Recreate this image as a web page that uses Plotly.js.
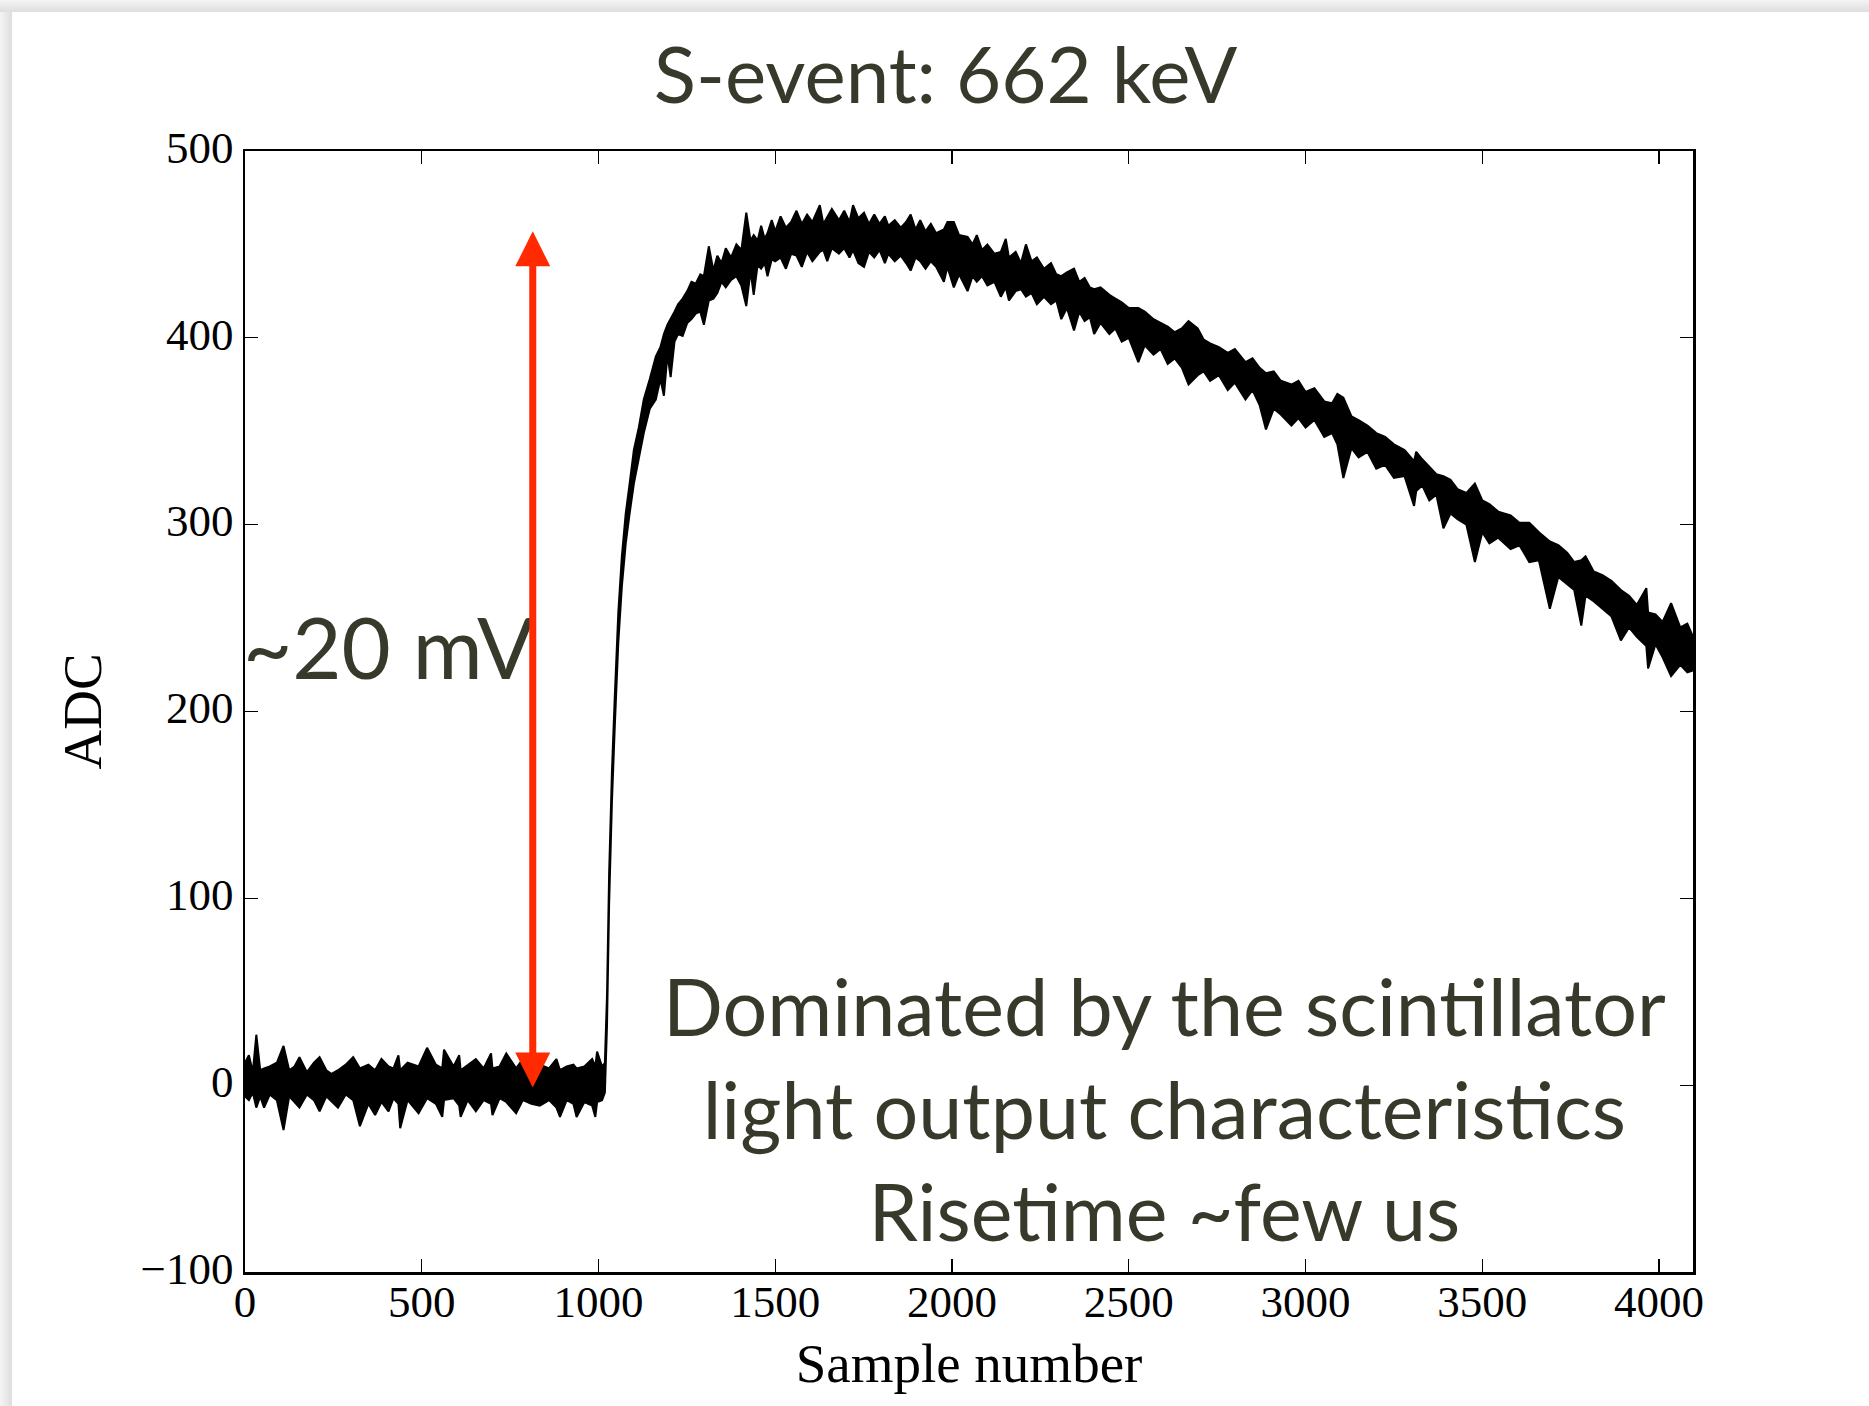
<!DOCTYPE html>
<html>
<head>
<meta charset="utf-8">
<script src="https://cdn.plot.ly/plotly-3.0.1.min.js"></script>
<style>
  html, body { margin: 0; padding: 0; }
  body {
    width: 1869px; height: 1406px; overflow: hidden;
    background:
      linear-gradient(to bottom, #f4f4f4 0px, #dedede 12px, rgba(255,255,255,0) 12px) top left / 100% 12px no-repeat,
      linear-gradient(to right, #f4f4f4 0px, #dedede 12px, rgba(255,255,255,0) 12px) top left / 12px 100% no-repeat,
      #ffffff;
  }
  #chart { position: absolute; left: 0; top: 0; width: 1869px; height: 1406px; }
</style>
</head>
<body>
<div id="chart"></div>
<script>
const sampleX = [
  0, 11, 22, 32, 43, 54, 70, 90, 109, 125, 140, 154, 175, 195, 211, 230, 245, 263, 285, 306,
  325, 349, 368, 386, 406, 420, 434, 439, 460, 491, 515, 540, 558, 563, 590, 606, 610, 630, 653, 675,
  696, 700, 720, 739, 767, 786, 810, 834, 860, 881, 891, 910, 929, 938, 960, 982, 991, 996, 1010,
  1018, 1024, 1030, 1038, 1046, 1056, 1066, 1077, 1088, 1100, 1114, 1128, 1145, 1162, 1175, 1185, 1195, 1204, 1215, 1225,
  1238, 1251, 1263, 1275, 1288,
  1298, 1312, 1325, 1336, 1348, 1360, 1375, 1390, 1404, 1418, 1430, 1439, 1450, 1460, 1470, 1478, 1490, 1500,
  1515, 1530, 1545, 1560, 1575, 1590, 1605, 1626, 1636, 1647, 1660, 1680, 1695, 1710, 1720, 1735, 1751, 1765,
  1780, 1795, 1810, 1820, 1838, 1855, 1870, 1883, 1897, 1910, 1925, 1940, 1955, 1977, 1987, 2005, 2020, 2044,
  2058, 2070, 2085, 2100, 2120, 2138, 2152, 2161, 2180, 2195, 2209, 2225, 2240, 2260, 2280, 2295, 2309, 2325,
  2345, 2360, 2375, 2390, 2402, 2420, 2445, 2462, 2480, 2500, 2527, 2545, 2570, 2590, 2610, 2630, 2650, 2669,
  2695, 2712, 2730, 2755, 2780, 2800, 2830, 2850, 2870, 2888, 2910, 2930, 2960, 2980, 3000, 3025, 3053, 3075,
  3090, 3107, 3130, 3150, 3175, 3200, 3225, 3250, 3280, 3307, 3313, 3330, 3350, 3370, 3390, 3410, 3430, 3455,
  3479, 3500, 3520, 3545, 3580, 3605, 3633, 3660, 3691, 3715, 3740, 3760, 3780, 3792, 3815, 3840, 3865, 3892,
  3915, 3937, 3964, 3969, 3990, 4010, 4034, 4060, 4080, 4096
];
// Upper edge of the noisy trace (ADC)
const upperADC = [
  12, 16, 7, 27, 8, 9, 10, 12, 21, 8, 10, 15, 7, 12, 15, 8, 6, 8, 11, 15,
  9, 11, 8, 14, 10, 9, 16, 8, 12, 10, 20, 11, 9, 19, 10, 16, 8, 11, 14, 9,
  17, 9, 10, 17, 9, 14, 10, 11, 9, 14, 8, 10, 11, 9, 10, 14, 10, 18, 10,
  12, 48, 113, 168, 208, 253, 283, 306, 322, 340, 352, 367, 378, 390, 395, 402, 407, 410, 414, 418,
  421, 425, 430, 429, 434,
  433, 449, 436, 444, 440, 448, 443, 450, 447, 467, 452, 455, 452, 460, 453, 456, 463, 457,
  465, 459, 462, 468, 461, 466, 462, 471, 461, 465, 469, 463, 468, 462, 471, 464, 467, 461,
  466, 461, 465, 460, 463, 459, 462, 466, 458, 463, 457, 461, 456, 458, 462, 462, 455, 454,
  450, 455, 447, 450, 445, 446, 453, 443, 446, 440, 450, 441, 443, 437, 440, 434, 433, 435,
  437, 430, 432, 427, 426, 427, 423, 421, 419, 416, 416, 414, 410, 408, 406, 403, 405, 409,
  405, 399, 397, 395, 392, 394, 387, 389, 384, 381, 382, 377, 375, 377, 371, 373, 366, 365,
  370, 368, 358, 356, 353, 349, 347, 343, 340, 334, 339, 335, 331, 327, 326, 324, 319, 317,
  322, 313, 311, 307, 305, 301, 301, 296, 291, 289, 285, 280, 281, 283, 275, 273, 270, 265,
  262, 257, 266, 253, 252, 248, 258, 245, 247, 240
];
// Lower edge of the noisy trace (ADC)
const lowerADC = [
  -6, -8, -4, -12, -6, -12, -5, -8, -24, -6, -9, -12, -5, -8, -14, -6, -9, -12, -5, -8,
  -22, -10, -16, -9, -14, -7, -10, -23, -8, -15, -7, -10, -17, -8, -7, -11, -17, -8, -14, -8,
  -10, -16, -7, -9, -15, -8, -10, -11, -8, -12, -17, -8, -10, -17, -9, -11, -17, -9, -8,
  -4, 32, 97, 152, 192, 237, 267, 290, 306, 322, 336, 349, 362, 367, 378, 369, 391, 379, 398, 402,
  401, 408, 410, 413, 414,
  407, 420, 421, 424, 430, 427, 431, 433, 428, 417, 436, 423, 439, 437, 440, 433, 442, 441,
  443, 437, 445, 444, 438, 446, 441, 446, 447, 441, 448, 445, 448, 443, 447, 440, 438, 446,
  443, 447, 440, 445, 441, 444, 440, 436, 443, 441, 437, 441, 438, 430, 438, 427, 434, 425,
  433, 430, 433, 428, 430, 422, 427, 420, 425, 426, 422, 424, 418, 422, 418, 420, 410, 416,
  404, 414, 409, 411, 402, 408, 402, 405, 398, 400, 387, 396, 391, 394, 386, 389, 384, 375,
  380, 382, 377, 380, 372, 376, 367, 372, 364, 351, 362, 359, 353, 357, 352, 356, 347, 349,
  343, 325, 341, 336, 339, 330, 332, 325, 326, 310, 318, 321, 313, 316, 298, 306, 303, 300,
  280, 296, 290, 293, 287, 289, 280, 281, 255, 272, 268, 265, 246, 262, 259, 255, 251, 238,
  245, 240, 235, 223, 236, 229, 219, 225, 221, 222
];
const xTicks = [0, 500, 1000, 1500, 2000, 2500, 3000, 3500, 4000];
const yTicks = [-100, 0, 100, 200, 300, 400, 500];
// Annotation arrow: from baseline to pulse top, at this sample
const arrowSample = 814;
const arrowBottom = -2;
const arrowTop = 457;
const noteLines = ['Dominated by the scintillator', 'light output characteristics', 'Risetime ~few us'];

const polyX = sampleX.concat(sampleX.slice().reverse());
const polyY = upperADC.concat(lowerADC.slice().reverse());

const textColor = '#373a2b';
const sansFont = 'Lato, "Open Sans", sans-serif';
const serifFont = '"Liberation Serif", "DejaVu Serif", serif';

const trace = {
  type: 'scatter',
  mode: 'lines',
  x: polyX,
  y: polyY,
  fill: 'toself',
  fillcolor: '#000000',
  line: { color: '#000000', width: 2 },
  hoverinfo: 'skip',
  showlegend: false
};

const axisCommon = {
  showline: true,
  linecolor: '#000000',
  linewidth: 2.5,
  mirror: 'ticks',
  ticks: 'inside',
  ticklen: 13,
  tickwidth: 1.3,
  tickcolor: '#000000',
  showgrid: false,
  zeroline: false,
  tickfont: { family: serifFont, size: 45, color: '#000000' }
};

const layout = {
  width: 1869,
  height: 1406,
  margin: { l: 245, r: 176, t: 151, b: 134 },
  paper_bgcolor: 'rgba(0,0,0,0)',
  plot_bgcolor: '#ffffff',
  title: {
    text: 'S-event: 662 keV',
    font: { family: sansFont, size: 78, color: textColor },
    xref: 'container', x: 0.5059, xanchor: 'center',
    yref: 'container', y: 0.946, yanchor: 'middle'
  },
  xaxis: Object.assign({}, axisCommon, {
    range: [0, 4096],
    tickvals: xTicks,
    ticktext: xTicks.map(String),
    ticklabelstandoff: -12,
    title: { text: 'Sample number', font: { family: serifFont, size: 55, color: '#000000' }, standoff: 18 }
  }),
  yaxis: Object.assign({}, axisCommon, {
    range: [-100, 500],
    tickvals: yTicks,
    ticktext: yTicks.map(v => v < 0 ? '\u2212' + Math.abs(v) : String(v)),
    ticklabelshift: -4,
    title: { text: 'ADC', font: { family: serifFont, size: 55, color: '#000000' }, standoff: 22 }
  }),
  annotations: [
    {
      xref: 'x', yref: 'y', x: 408, y: 235,
      text: '~20 mV', showarrow: false,
      xanchor: 'center', yanchor: 'middle',
      font: { family: sansFont, size: 85, color: textColor }
    },
    {
      xref: 'x', yref: 'y', x: 2601, y: -12,
      text: noteLines.join('<br>'), showarrow: false, align: 'center',
      xanchor: 'center', yanchor: 'middle',
      font: { family: sansFont, size: 79, color: textColor }
    },
    {
      xref: 'x', yref: 'y', x: arrowSample, y: arrowTop,
      axref: 'x', ayref: 'y', ax: arrowSample, ay: arrowBottom,
      text: '', showarrow: true,
      arrowside: 'end+start',
      arrowhead: 2, startarrowhead: 2,
      arrowsize: 1, startarrowsize: 1,
      arrowwidth: 7, arrowcolor: '#ff2a00',
      standoff: 0, startstandoff: 0
    }
  ]
};

Plotly.newPlot('chart', [trace], layout, { displayModeBar: false, staticPlot: true });
</script>
</body>
</html>
